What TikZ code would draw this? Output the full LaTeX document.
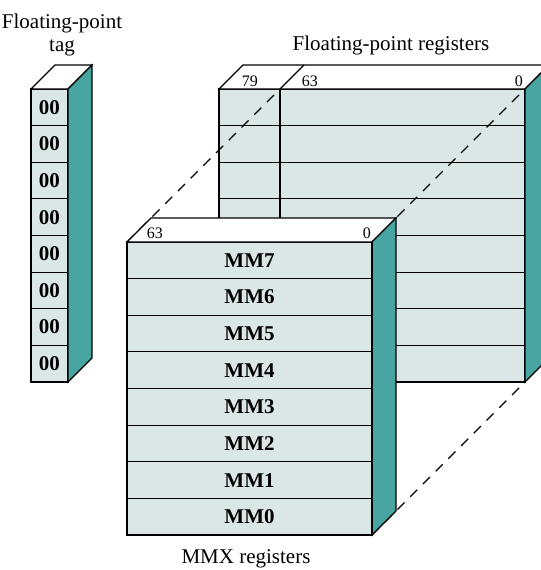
\documentclass[tikz,border=0pt]{standalone}
\usepackage{fontspec}
\setmainfont{Liberation Serif}
\usetikzlibrary{calc, positioning}
\definecolor{celda}{HTML}{DAE7E6}
\definecolor{lateral}{HTML}{48A5A1}

\begin{document}
\begin{tikzpicture}[x=0.5pt, y=-0.5pt,
  cell/.style={draw, fill=celda, line width=0.6pt},
  topface/.style={draw, fill=white, line width=0.6pt},
  sideface/.style={draw, fill=lateral, line width=0.6pt},
  reglabel/.style={font=\fontsize{10.5}{12}\selectfont\bfseries},
  bitlabel/.style={font=\fontsize{8}{9}\selectfont, inner sep=0pt, anchor=base},
  titulo/.style={font=\fontsize{10.5}{11.5}\selectfont, align=center}]
\clip (0,0) rectangle (541,570);
\def\rowh{36.625}
\def\prof{24}

% Registros de punto flotante (80 bits, al fondo)
\coordinate (FA) at (219,89);
\coordinate (FM) at (280,89);
\coordinate (FB) at (525,89);
\coordinate (FC) at (525,382);
\foreach \i in {0,...,7} {
  \draw[cell] (219,89+\i*\rowh) rectangle (525,89+\i*\rowh+\rowh);
}
\draw[line width=0.6pt] (FM) -- (280,382);
\draw[topface] (FA) -- ++(\prof,-\prof) -- ($(FB)+(\prof,-\prof)$) -- (FB) -- cycle;
\draw[line width=0.6pt] (FM) -- ++(\prof,-\prof);
\draw[sideface] (FB) -- ++(\prof,-\prof) -- ($(FC)+(\prof,-\prof)$) -- (FC) -- cycle;
\node[bitlabel] (f79) at (250,86) {79};
\node[bitlabel] (f63) at (310,86) {63};
\node[bitlabel] (f0) at (519,86) {0};
\node[titulo] (ftit) at (391,45) {Floating-point registers};

% Etiquetas (tag)
\coordinate (TA) at (31,89);
\coordinate (TB) at (68,89);
\coordinate (TC) at (68,382);
\foreach \i in {0,...,7} {
  \draw[cell] (31,89+\i*\rowh) rectangle (68,89+\i*\rowh+\rowh);
  \node[reglabel] (tag\i) at (49.5,89+\i*\rowh+0.5*\rowh) {00};
}
\draw[topface] (TA) -- ++(\prof,-\prof) -- ($(TB)+(\prof,-\prof)$) -- (TB) -- cycle;
\draw[sideface] (TB) -- ++(\prof,-\prof) -- ($(TC)+(\prof,-\prof)$) -- (TC) -- cycle;
\node[titulo] (ttit) at (62,35) {Floating-point\\tag};

% Registros MMX (bits 63..0, al frente)
\coordinate (MA) at (127,242);
\coordinate (MB) at (372,242);
\coordinate (MC) at (372,535);
\draw[dashed, line width=0.6pt, dash pattern=on 5pt off 4pt] (MA) -- (FM);
\draw[dashed, line width=0.6pt, dash pattern=on 5pt off 4pt] (MB) -- (FB);
\draw[dashed, line width=0.6pt, dash pattern=on 5pt off 4pt] (MC) -- (FC);
\foreach \i in {0,...,7} {
  \pgfmathtruncatemacro{\reg}{7-\i}
  \draw[cell] (127,242+\i*\rowh) rectangle (372,242+\i*\rowh+\rowh);
  \node[reglabel] (mm\reg) at (249.5,242+\i*\rowh+0.5*\rowh) {MM\reg};
}
\draw[topface] (MA) -- ++(\prof,-\prof) -- ($(MB)+(\prof,-\prof)$) -- (MB) -- cycle;
\draw[sideface] (MB) -- ++(\prof,-\prof) -- ($(MC)+(\prof,-\prof)$) -- (MC) -- cycle;
\draw[line width=1pt] (MB) -- (MC);
\node[bitlabel] (m63) at (155,238) {63};
\node[bitlabel] (m0) at (367,238) {0};
\node[titulo] (mtit) at (246,559) {MMX registers};
\end{tikzpicture}
\end{document}
